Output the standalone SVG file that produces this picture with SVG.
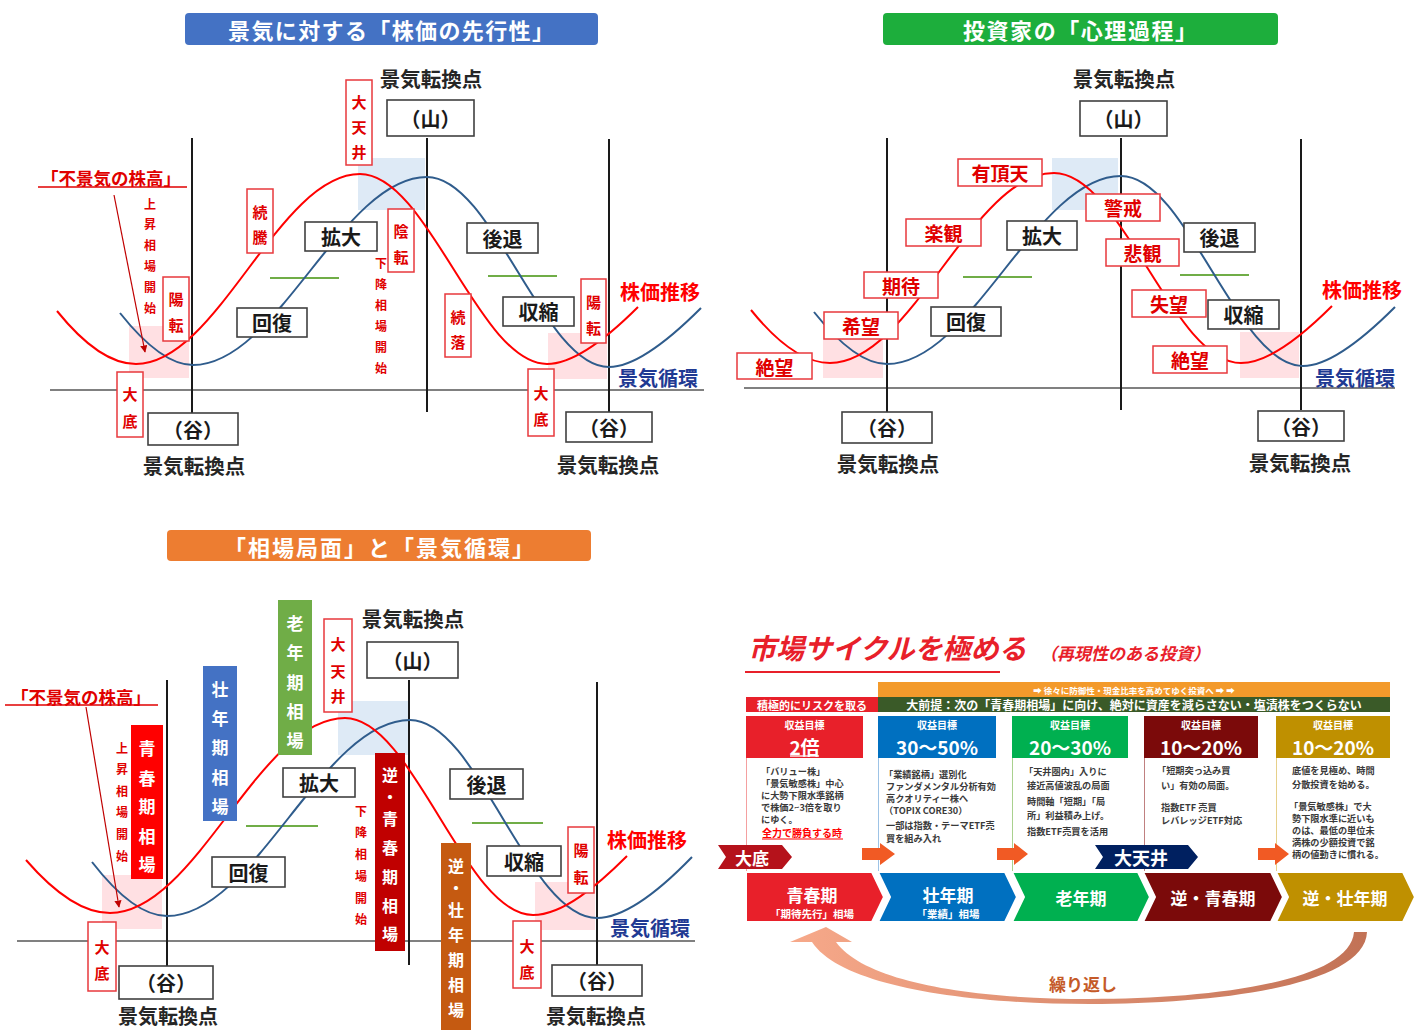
<svg xmlns="http://www.w3.org/2000/svg" width="1424" height="1030" viewBox="0 0 1424 1030">
<defs>
<style>
text{font-family:"Noto Sans CJK JP","Noto Sans CJK SC",sans-serif;}
.ttl{font-size:22px;font-weight:bold;fill:#fff;text-anchor:middle;dominant-baseline:central}
.bx{fill:#fff;stroke:#404040;stroke-width:1.6}
.bt{font-size:20px;font-weight:bold;fill:#1a1a1a;text-anchor:middle;dominant-baseline:central}
.tp{font-size:20.5px;font-weight:bold;fill:#262626;text-anchor:middle;dominant-baseline:central}
.rb{fill:#fff;stroke:#E8383D;stroke-width:1.5}
.rv{font-size:15px;font-weight:bold;fill:#E00000;text-anchor:middle;dominant-baseline:central}
.rh{font-size:19px;font-weight:bold;fill:#E00000;text-anchor:middle;dominant-baseline:central}
.sm{font-size:12px;font-weight:bold;fill:#E00000;text-anchor:middle;dominant-baseline:central}
.ax{stroke:#808080;stroke-width:2}
.vl{stroke:#1a1a1a;stroke-width:2}
.gl{stroke:#70AD47;stroke-width:2}
.rc{fill:none;stroke:#FF0000;stroke-width:2}
.bc{fill:none;stroke:#2F5C8C;stroke-width:2}
.pk{fill:#FFE0E3}
.lb{fill:#DEEAF6}
.kab{font-size:20px;font-weight:bold;fill:#FF0000;dominant-baseline:central}
.kjn{font-size:20px;font-weight:bold;fill:#1F3A93;dominant-baseline:central}
.fk{font-size:17.5px;font-weight:bold;fill:#E00000;text-anchor:middle;dominant-baseline:central}
.ul{stroke:#E00000;stroke-width:1.5}
.bar{font-size:17px;font-weight:bold;fill:#fff;text-anchor:middle;dominant-baseline:central}
.bar2{font-size:16px;font-weight:bold;fill:#fff;text-anchor:middle;dominant-baseline:central}
.bd{font-size:9.2px;font-weight:bold;fill:#3a3a3a;dominant-baseline:central}
.hd1{font-size:10px;font-weight:bold;fill:#fff;text-anchor:middle;dominant-baseline:central}
.hd2{font-size:19px;font-weight:bold;fill:#fff;text-anchor:middle;dominant-baseline:central}
.chv{stroke:#fff;stroke-width:2}
.ct{font-size:17px;font-weight:bold;fill:#fff;text-anchor:middle;dominant-baseline:central}
.cs{font-size:10.5px;font-weight:bold;fill:#fff;text-anchor:middle;dominant-baseline:central}
.oa{fill:#F15A24}
</style>
<marker id="ah" viewBox="0 0 10 10" refX="9" refY="5" markerWidth="6" markerHeight="6" orient="auto"><path d="M0,0 L10,5 L0,10 Z" fill="#C00000"/></marker>
<linearGradient id="lg" x1="0" x2="1" y1="0" y2="0"><stop offset="0" stop-color="#F7A98A"/><stop offset="1" stop-color="#C27256"/></linearGradient>
</defs>
<rect width="1424" height="1030" fill="#fff"/>

<!-- ================= PANEL A ================= -->
<g id="panel-a">
<g id="a-title"><rect x="185" y="13" width="413" height="32" rx="4" fill="#4472C4"/><text class="ttl" x="391" y="29" textLength="326" lengthAdjust="spacing">景気に対する「株価の先行性」</text></g>
<rect class="pk" x="129" y="326" width="60" height="52"/>
<rect class="lb" x="358" y="158" width="67" height="52"/>
<rect class="pk" x="548" y="333" width="59" height="46"/>
<line class="ax" x1="50" y1="390" x2="704" y2="390"/>
<line class="vl" x1="192" y1="138" x2="192" y2="413"/>
<line class="vl" x1="427" y1="138" x2="427" y2="412"/>
<line class="vl" x1="609" y1="139" x2="609" y2="412"/>
<line class="gl" x1="270" y1="278" x2="339" y2="278"/>
<line class="gl" x1="488" y1="276" x2="557" y2="276"/>
<path class="bc" d="M120,313 C143,342 168,365 193,365 C278,365 342,177 427,177 C493,177 543,367 609,367 C637,367 673,336 701,308"/>
<path class="rc" d="M57,311 C82,342 110,364 136,364 C217.6,364 278.4,174 360,174 C428,174 479,364 547,364 C575,364 610,335 638,307"/>
<g id="a-kaifuku"><rect class="bx" x="237" y="308" width="70" height="29"/><text class="bt" x="272" y="322.5">回復</text></g>
<g id="a-kakudai"><rect class="bx" x="305" y="222" width="72" height="29"/><text class="bt" x="341" y="236.5">拡大</text></g>
<g id="a-koutai"><rect class="bx" x="467" y="223" width="71" height="30"/><text class="bt" x="502.5" y="238">後退</text></g>
<g id="a-shukushuku"><rect class="bx" x="503" y="297" width="71" height="29"/><text class="bt" x="538.5" y="311.5">収縮</text></g>
<g id="a-yama"><rect class="bx" x="387" y="100" width="87" height="36"/><text class="bt" x="430.5" y="118">（山）</text></g>
<g id="a-tani-l"><rect class="bx" x="148" y="413" width="90" height="32"/><text class="bt" x="193" y="429">（谷）</text></g>
<g id="a-tani-r"><rect class="bx" x="566" y="412" width="86" height="30"/><text class="bt" x="609" y="427">（谷）</text></g>
<text class="tp" x="431" y="78">景気転換点</text>
<text class="tp" x="194" y="465">景気転換点</text>
<text class="tp" x="608" y="464">景気転換点</text>
<g id="a-daitenjo"><rect class="rb" x="346" y="80" width="26" height="85"/><text class="rv"><tspan x="359" y="101">大</tspan><tspan x="359" y="126">天</tspan><tspan x="359" y="151">井</tspan></text></g>
<g id="a-zokutou"><rect class="rb" x="247" y="189" width="26" height="64"/><text class="rv"><tspan x="260" y="211">続</tspan><tspan x="260" y="236">騰</tspan></text></g>
<g id="a-youten-l"><rect class="rb" x="163" y="277" width="26" height="64"/><text class="rv"><tspan x="176" y="298">陽</tspan><tspan x="176" y="324">転</tspan></text></g>
<g id="a-oozoko-l"><rect class="rb" x="117" y="372" width="26" height="65"/><text class="rv"><tspan x="130" y="393">大</tspan><tspan x="130" y="420">底</tspan></text></g>
<g id="a-inten"><rect class="rb" x="388" y="209" width="26" height="63"/><text class="rv"><tspan x="401" y="230">陰</tspan><tspan x="401" y="256">転</tspan></text></g>
<g id="a-zokuraku"><rect class="rb" x="445" y="294" width="26" height="63"/><text class="rv"><tspan x="458" y="316">続</tspan><tspan x="458" y="341">落</tspan></text></g>
<g id="a-oozoko-r"><rect class="rb" x="528" y="369" width="26" height="67"/><text class="rv"><tspan x="541" y="392">大</tspan><tspan x="541" y="418">底</tspan></text></g>
<g id="a-youten-r"><rect class="rb" x="581" y="279" width="25" height="64"/><text class="rv"><tspan x="593.5" y="301">陽</tspan><tspan x="593.5" y="327">転</tspan></text></g>
<text class="sm"><tspan x="150" y="203">上</tspan><tspan x="150" y="223">昇</tspan><tspan x="150" y="244">相</tspan><tspan x="150" y="265">場</tspan><tspan x="150" y="286">開</tspan><tspan x="150" y="307">始</tspan></text>
<text class="sm"><tspan x="381" y="262">下</tspan><tspan x="381" y="283">降</tspan><tspan x="381" y="304">相</tspan><tspan x="381" y="325">場</tspan><tspan x="381" y="346">開</tspan><tspan x="381" y="367">始</tspan></text>
<text class="fk" x="111" y="177">「不景気の株高」</text>
<line class="ul" x1="38" y1="187" x2="187" y2="187"/>
<text class="kab" x="620" y="291">株価推移</text>
<text class="kjn" x="618" y="377">景気循環</text>
</g>

<!-- ================= PANEL B ================= -->
<g id="panel-b">
<g id="b-title"><rect x="883" y="13" width="395" height="32" rx="4" fill="#1DAE3C"/><text class="ttl" x="1080" y="29" textLength="234" lengthAdjust="spacing">投資家の「心理過程」</text></g>
<rect class="pk" x="823" y="326" width="60" height="52"/>
<rect class="lb" x="1052" y="158" width="66" height="52"/>
<rect class="pk" x="1240" y="332" width="59" height="46"/>
<line class="ax" x1="744" y1="388" x2="1395" y2="388"/>
<line class="vl" x1="887" y1="138" x2="887" y2="412"/>
<line class="vl" x1="1121" y1="138" x2="1121" y2="410"/>
<line class="vl" x1="1301" y1="139" x2="1301" y2="410"/>
<line class="gl" x1="963" y1="277" x2="1032" y2="277"/>
<line class="gl" x1="1180" y1="275" x2="1249" y2="275"/>
<g transform="translate(694,-1)">
<path class="bc" d="M120,313 C143,342 168,365 193,365 C278,365 342,177 427,177 C493,177 543,367 609,367 C637,367 673,336 701,308"/>
<path class="rc" d="M57,311 C82,342 110,364 136,364 C217.6,364 278.4,174 360,174 C428,174 479,364 547,364 C575,364 610,335 638,307"/>
</g>
<g id="b-kaifuku"><rect class="bx" x="931" y="307" width="70" height="29"/><text class="bt" x="966" y="321.5">回復</text></g>
<g id="b-kakudai"><rect class="bx" x="1007" y="221" width="70" height="29"/><text class="bt" x="1042" y="235.5">拡大</text></g>
<g id="b-koutai"><rect class="bx" x="1184" y="223" width="71" height="29"/><text class="bt" x="1219.5" y="237.5">後退</text></g>
<g id="b-shukushuku"><rect class="bx" x="1208" y="300" width="71" height="29"/><text class="bt" x="1243.5" y="314.5">収縮</text></g>
<g id="b-yama"><rect class="bx" x="1080" y="101" width="87" height="35"/><text class="bt" x="1123.5" y="118.5">（山）</text></g>
<g id="b-tani-l"><rect class="bx" x="842" y="412" width="90" height="31"/><text class="bt" x="887" y="427.5">（谷）</text></g>
<g id="b-tani-r"><rect class="bx" x="1258" y="411" width="86" height="30"/><text class="bt" x="1301" y="426">（谷）</text></g>
<text class="tp" x="1124" y="78">景気転換点</text>
<text class="tp" x="888" y="463">景気転換点</text>
<text class="tp" x="1300" y="462">景気転換点</text>
<g id="b-zetsubou-l"><rect class="rb" x="737" y="353" width="75" height="26"/><text class="rh" x="774.5" y="366">絶望</text></g>
<g id="b-kibou"><rect class="rb" x="824" y="312" width="74" height="27"/><text class="rh" x="861" y="325.5">希望</text></g>
<g id="b-kitai"><rect class="rb" x="864" y="272" width="74" height="26"/><text class="rh" x="901" y="285">期待</text></g>
<g id="b-rakkan"><rect class="rb" x="906" y="219" width="75" height="27"/><text class="rh" x="943.5" y="232.5">楽観</text></g>
<g id="b-uchouten"><rect class="rb" x="958" y="159" width="84" height="27"/><text class="rh" x="1000" y="172.5">有頂天</text></g>
<g id="b-keikai"><rect class="rb" x="1086" y="194" width="74" height="27"/><text class="rh" x="1123" y="207.5">警戒</text></g>
<g id="b-hikan"><rect class="rb" x="1106" y="239" width="73" height="27"/><text class="rh" x="1142.5" y="252.5">悲観</text></g>
<g id="b-shitsubou"><rect class="rb" x="1132" y="290" width="74" height="27"/><text class="rh" x="1169" y="303.5">失望</text></g>
<g id="b-zetsubou-r"><rect class="rb" x="1153" y="346" width="74" height="27"/><text class="rh" x="1190" y="359.5">絶望</text></g>
<text class="kab" x="1322" y="289">株価推移</text>
<text class="kjn" x="1315" y="377">景気循環</text>
</g>

<!-- ================= PANEL C ================= -->
<g id="panel-c">
<g id="c-title"><rect x="167" y="530" width="424" height="31" rx="4" fill="#ED7D31"/><text class="ttl" x="379" y="545.5" textLength="310" lengthAdjust="spacing">「相場局面」と「景気循環」</text></g>
<rect class="pk" x="102" y="875" width="60" height="54"/>
<rect class="lb" x="338" y="701" width="70" height="54"/>
<rect class="pk" x="535" y="882" width="60" height="48"/>
<line class="ax" x1="17" y1="941" x2="695" y2="941"/>
<line class="vl" x1="167" y1="680" x2="167" y2="966"/>
<line class="vl" x1="409" y1="680" x2="409" y2="965"/>
<line class="vl" x1="597" y1="682" x2="597" y2="965"/>
<line class="gl" x1="246" y1="826" x2="318" y2="826"/>
<line class="gl" x1="472" y1="823" x2="543" y2="823"/>
<path class="bc" d="M92,862 C116,893 142,916 167,916 C255,916 322,720 410,720 C478,720 528,918 597,918 C627,918 662,888 692,857"/>
<path class="rc" d="M26,860 C52,890 82,913 110,913 C196,913 259,718 345,718 C413,718 465,915 533,915 C563,915 598,885 627,856"/>
<g id="c-kaifuku"><rect class="bx" x="212" y="857" width="73" height="30"/><text class="bt" x="248.5" y="872">回復</text></g>
<g id="c-kakudai"><rect class="bx" x="283" y="768" width="72" height="29"/><text class="bt" x="319" y="782.5">拡大</text></g>
<g id="c-koutai"><rect class="bx" x="450" y="769" width="73" height="30"/><text class="bt" x="486.5" y="784">後退</text></g>
<g id="c-shukushuku"><rect class="bx" x="487" y="846" width="74" height="30"/><text class="bt" x="524" y="861">収縮</text></g>
<g id="c-yama"><rect class="bx" x="367" y="642" width="91" height="36"/><text class="bt" x="412.5" y="660">（山）</text></g>
<g id="c-tani-l"><rect class="bx" x="119" y="966" width="94" height="33"/><text class="bt" x="166" y="982.5">（谷）</text></g>
<g id="c-tani-r"><rect class="bx" x="552" y="965" width="90" height="31"/><text class="bt" x="597" y="980.5">（谷）</text></g>
<text class="tp" x="413" y="618">景気転換点</text>
<text class="tp" x="168" y="1015" style="font-size:20px">景気転換点</text>
<text class="tp" x="596" y="1015" style="font-size:20px">景気転換点</text>
<g id="c-daitenjo"><rect class="rb" x="324" y="619" width="28" height="93"/><text class="rv"><tspan x="338" y="643">大</tspan><tspan x="338" y="670">天</tspan><tspan x="338" y="695">井</tspan></text></g>
<g id="c-oozoko-l"><rect class="rb" x="88" y="922" width="28" height="69"/><text class="rv"><tspan x="102" y="946">大</tspan><tspan x="102" y="972">底</tspan></text></g>
<g id="c-oozoko-r"><rect class="rb" x="513" y="921" width="28" height="67"/><text class="rv"><tspan x="527" y="945">大</tspan><tspan x="527" y="971">底</tspan></text></g>
<g id="c-youten"><rect class="rb" x="568" y="827" width="26" height="66"/><text class="rv"><tspan x="581" y="849">陽</tspan><tspan x="581" y="876">転</tspan></text></g>
<g id="c-seishun"><rect x="131" y="725" width="32" height="154" fill="#FF0000"/><text class="bar"><tspan x="147" y="747">青</tspan><tspan x="147" y="777">春</tspan><tspan x="147" y="805">期</tspan><tspan x="147" y="835">相</tspan><tspan x="147" y="863">場</tspan></text></g>
<g id="c-sounen"><rect x="203" y="666" width="34" height="155" fill="#4472C4"/><text class="bar"><tspan x="220" y="688">壮</tspan><tspan x="220" y="717">年</tspan><tspan x="220" y="746">期</tspan><tspan x="220" y="776">相</tspan><tspan x="220" y="805">場</tspan></text></g>
<g id="c-rounen"><rect x="278" y="600" width="34" height="155" fill="#70AD47"/><text class="bar"><tspan x="295" y="622">老</tspan><tspan x="295" y="651">年</tspan><tspan x="295" y="681">期</tspan><tspan x="295" y="710">相</tspan><tspan x="295" y="739">場</tspan></text></g>
<g id="c-gyaku-seishun"><rect x="375" y="753" width="30" height="198" fill="#C00000"/><text class="bar2"><tspan x="390" y="774">逆</tspan><tspan x="390" y="796">・</tspan><tspan x="390" y="818">青</tspan><tspan x="390" y="847">春</tspan><tspan x="390" y="876">期</tspan><tspan x="390" y="905">相</tspan><tspan x="390" y="933">場</tspan></text></g>
<g id="c-gyaku-sounen"><rect x="441" y="843" width="30" height="187" fill="#C55A11"/><text class="bar2"><tspan x="456" y="865">逆</tspan><tspan x="456" y="887">・</tspan><tspan x="456" y="909">壮</tspan><tspan x="456" y="934">年</tspan><tspan x="456" y="959">期</tspan><tspan x="456" y="984">相</tspan><tspan x="456" y="1009">場</tspan></text></g>
<text class="sm"><tspan x="122" y="747">上</tspan><tspan x="122" y="768">昇</tspan><tspan x="122" y="790">相</tspan><tspan x="122" y="811">場</tspan><tspan x="122" y="833">開</tspan><tspan x="122" y="855">始</tspan></text>
<text class="sm"><tspan x="361" y="810">下</tspan><tspan x="361" y="831">降</tspan><tspan x="361" y="853">相</tspan><tspan x="361" y="875">場</tspan><tspan x="361" y="897">開</tspan><tspan x="361" y="918">始</tspan></text>
<text class="fk" x="81" y="696">「不景気の株高」</text>
<line class="ul" x1="5" y1="705" x2="158" y2="705"/>
<text class="kab" x="607" y="839">株価推移</text>
<text class="kjn" x="610" y="927">景気循環</text>
</g>

<g id="connectors">
<line x1="114" y1="195" x2="145" y2="352" stroke="#C00000" stroke-width="1.2" marker-end="url(#ah)"/>
<line x1="86" y1="707" x2="119" y2="907" stroke="#C00000" stroke-width="1.2" marker-end="url(#ah)"/>
</g>

<!-- ================= PANEL D ================= -->
<g id="panel-d">
<text x="748" y="647" font-size="28" font-weight="bold" font-style="italic" fill="#E8202A" dominant-baseline="central">市場サイクルを極める</text>
<text x="1040" y="652" font-size="17" font-weight="bold" font-style="italic" fill="#E8202A" dominant-baseline="central">（再現性のある投資）</text>
<line x1="745" y1="672" x2="1000" y2="672" stroke="#E8202A" stroke-width="2"/>
<g id="d-bars">
<rect x="878" y="682" width="512" height="15" fill="#F39A2B"/>
<text x="1134" y="689.5" font-size="8.5" font-weight="bold" fill="#fff" text-anchor="middle" dominant-baseline="central">➡ 徐々に防御性・現金比率を高めてゆく投資へ ➡ ➡</text>
<rect x="746" y="697" width="132" height="15" fill="#E8202A"/>
<text x="812" y="704.5" font-size="11" font-weight="bold" fill="#fff" text-anchor="middle" dominant-baseline="central">積極的にリスクを取る</text>
<rect x="878" y="697" width="512" height="15" fill="#3A5A28"/>
<text x="1134" y="704.5" font-size="12" font-weight="bold" fill="#fff" text-anchor="middle" dominant-baseline="central">大前提：次の「青春期相場」に向け、絶対に資産を減らさない・塩漬株をつくらない</text>
</g>
<g id="d-col1">
<line x1="746.5" y1="758" x2="746.5" y2="872" stroke="#F4A0A0" stroke-width="1"/>
<rect x="746" y="716" width="117" height="42" fill="#E8202A"/>
<text class="hd1" x="804.5" y="724">収益目標</text>
<text class="hd2" x="804.5" y="746">2倍</text>
<line x1="790" y1="756" x2="819" y2="756" stroke="#fff" stroke-width="1.3"/>
<text class="bd"><tspan x="761" y="771">「バリュー株」</tspan><tspan x="761" y="783">「景気敏感株」中心</tspan><tspan x="761" y="795">に大勢下限水準銘柄</tspan><tspan x="761" y="807">で株価2~3倍を取り</tspan><tspan x="761" y="819">にゆく。</tspan></text>
<text x="762" y="832" font-size="10" font-weight="bold" fill="#FF0000" dominant-baseline="central">全力で勝負する時</text>
<line x1="762" y1="839" x2="843" y2="839" stroke="#FF0000" stroke-width="1"/>
</g>
<g id="d-col2">
<line x1="878.5" y1="758" x2="878.5" y2="872" stroke="#9DC3E6" stroke-width="1"/>
<rect x="878" y="716" width="118" height="42" fill="#0070C0"/>
<text class="hd1" x="937" y="724">収益目標</text>
<text class="hd2" x="937" y="746">30〜50%</text>
<text class="bd"><tspan x="884" y="774">「業績銘柄」選別化</tspan><tspan x="886" y="786">ファンダメンタル分析有効</tspan><tspan x="886" y="798">高クオリティー株へ</tspan><tspan x="884" y="810">（TOPIX CORE30）</tspan><tspan x="886" y="825">一部は指数・テーマETF売</tspan><tspan x="886" y="837.5">買を組み入れ</tspan></text>
</g>
<g id="d-col3">
<line x1="1012.5" y1="758" x2="1012.5" y2="872" stroke="#A9D18E" stroke-width="1"/>
<rect x="1012" y="716" width="116" height="42" fill="#00B050"/>
<text class="hd1" x="1070" y="724">収益目標</text>
<text class="hd2" x="1070" y="746">20〜30%</text>
<text class="bd"><tspan x="1024" y="771">「天井圏内」入りに</tspan><tspan x="1027" y="785">接近高値波乱の局面</tspan><tspan x="1027" y="801">時間軸「短期」「局</tspan><tspan x="1027" y="815">所」利益積み上げ。</tspan><tspan x="1027" y="831">指数ETF売買を活用</tspan></text>
</g>
<g id="d-col4">
<line x1="1144.5" y1="758" x2="1144.5" y2="872" stroke="#C08080" stroke-width="1"/>
<rect x="1144" y="716" width="114" height="42" fill="#7B0A0A"/>
<text class="hd1" x="1201" y="724">収益目標</text>
<text class="hd2" x="1201" y="746">10〜20%</text>
<text class="bd"><tspan x="1157" y="770">「短期突っ込み買</tspan><tspan x="1161" y="785">い」有効の局面。</tspan><tspan x="1161" y="807">指数ETF 売買</tspan><tspan x="1161" y="819.5">レバレッジETF対応</tspan></text>
</g>
<g id="d-col5">
<line x1="1276.5" y1="758" x2="1276.5" y2="872" stroke="#E6D08A" stroke-width="1"/>
<rect x="1276" y="716" width="114" height="42" fill="#BF9000"/>
<text class="hd1" x="1333" y="724">収益目標</text>
<text class="hd2" x="1333" y="746">10〜20%</text>
<text class="bd"><tspan x="1292" y="770">底値を見極め、時間</tspan><tspan x="1292" y="784">分散投資を始める。</tspan><tspan x="1289" y="806">「景気敏感株」で大</tspan><tspan x="1292" y="818">勢下限水準に近いも</tspan><tspan x="1292" y="830">のは、最低の単位未</tspan><tspan x="1292" y="842">満株の少額投資で銘</tspan><tspan x="1292" y="854">柄の値動きに慣れる。</tspan></text>
</g>
<g id="d-arrows">
<path class="oa" d="M862,848 L880,848 L880,843 L895,854 L880,865 L880,860 L862,860 Z"/>
<path class="oa" d="M997,848 L1014,848 L1014,843 L1028,854 L1014,865 L1014,860 L997,860 Z"/>
<path class="oa" d="M1258,848 L1275,848 L1275,843 L1289,854 L1275,865 L1275,860 L1258,860 Z"/>
</g>
<g id="d-oozoko"><path d="M718,845 L782,845 L792,857 L782,869 L718,869 L726,857 Z" fill="#B5121B"/><text x="752" y="857" font-size="17" font-weight="bold" fill="#fff" text-anchor="middle" dominant-baseline="central">大底</text></g>
<g id="d-daitenjo"><path d="M1095,845 L1188,845 L1198,857 L1188,869 L1095,869 L1103,857 Z" fill="#002060"/><text x="1141" y="857" font-size="18" font-weight="bold" fill="#fff" text-anchor="middle" dominant-baseline="central">大天井</text></g>
<g id="d-band">
<g id="d-seishun"><path class="chv" d="M746,872 L872,872 L884,897 L872,922 L746,922 Z" fill="#E8202A"/><text class="ct" x="812" y="894">青春期</text><text class="cs" x="812" y="913">「期待先行」相場</text></g>
<g id="d-sounen"><path class="chv" d="M878,872 L1005,872 L1017,897 L1005,922 L878,922 L890,897 Z" fill="#0070C0"/><text class="ct" x="948" y="894">壮年期</text><text class="cs" x="948" y="913">「業績」相場</text></g>
<g id="d-rounen"><path class="chv" d="M1012,872 L1138,872 L1150,897 L1138,922 L1012,922 L1024,897 Z" fill="#00B050"/><text class="ct" x="1081" y="897">老年期</text></g>
<g id="d-gyaku-seishun"><path class="chv" d="M1143,872 L1271,872 L1283,897 L1271,922 L1143,922 L1155,897 Z" fill="#7B0A0A"/><text class="ct" x="1213" y="897">逆・青春期</text></g>
<g id="d-gyaku-sounen"><path class="chv" d="M1276,872 L1403,872 L1415,897 L1403,922 L1276,922 L1288,897 Z" fill="#BF9000"/><text class="ct" x="1345" y="897">逆・壮年期</text></g>
</g>
<g id="d-loop">
<path d="M1354,932 L1367,932 C1365,985 1220,1004 1090,1004 C960,1004 840,985 812,942 L790,942 L826,927 L852,942 L836,942 C865,982 970,999 1090,999 C1210,999 1350,982 1354,932 Z" fill="url(#lg)"/>
<text x="1083" y="983" font-size="17" font-weight="bold" fill="#C55A28" text-anchor="middle" dominant-baseline="central">繰り返し</text>
</g>
</g>
</svg>
